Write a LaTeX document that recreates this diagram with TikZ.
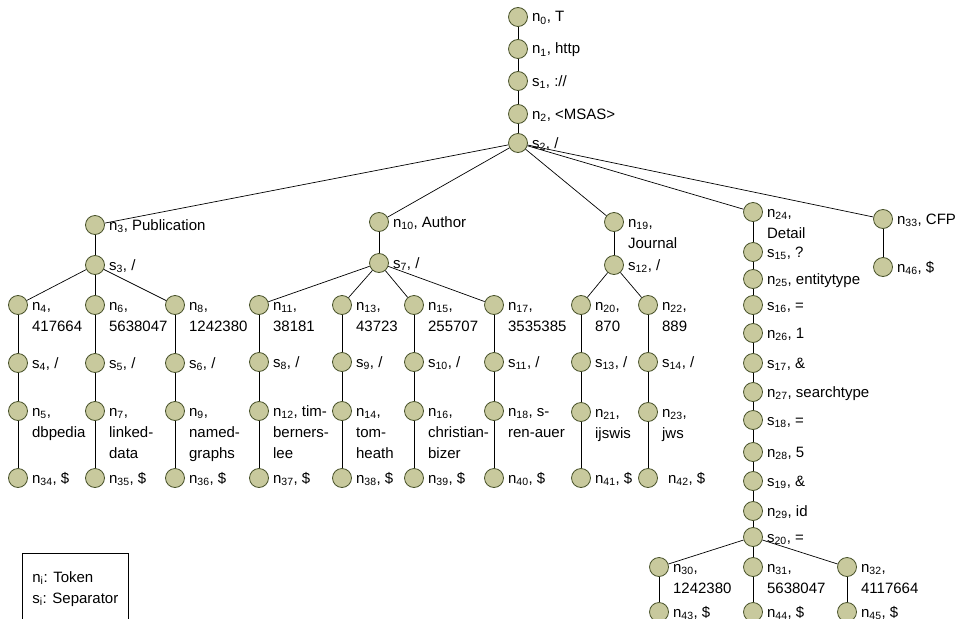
\documentclass[tikz,border=0pt]{standalone}
\usepackage{fontspec}
\setmainfont{Liberation Sans}
\usetikzlibrary{positioning,calc}
\definecolor{vfill}{RGB}{200,201,157}
\definecolor{vline}{RGB}{72,82,42}
\tikzset{vert/.style={circle,draw=vline,fill=vfill,line width=0.8pt,minimum size=19pt,inner sep=0pt}, }
\tikzset{lab/.style={anchor=base west,inner sep=0pt,font=\fontsize{15}{21}\selectfont}, }
\tikzset{linea/.style={draw,line width=0.7pt}}
\tikzset{keybox/.style={draw,line width=0.7pt,anchor=north west,inner xsep=10pt,inner ysep=14pt,
    minimum width=106pt,font=\fontsize{15}{21}\selectfont}, }
\newcommand{\tokn}[1]{n\textsubscript{#1}}
\newcommand{\sepr}[1]{s\textsubscript{#1}}
\newcommand{\lines}[1]{\begin{tabular}[t]{@{}l@{}}#1\end{tabular}}
% vertex with its text to the right
\newcommand{\vtx}[3]{\node[vert] (#1) at (#2) {};
  \node[lab] (#1-l) at ([xshift=4pt,yshift=-5pt]#1.east) {#3};}

\begin{document}
\begin{tikzpicture}[x=1pt,y=-1pt]
  \useasboundingbox (0,0) rectangle (960,618);
  % spine
  \vtx{n0}{518,17}{\tokn{0}, T}
  \vtx{n1}{518,49}{\tokn{1}, http}
  \vtx{s1}{518,81}{\sepr{1}, ://}
  \vtx{n2}{518,114}{\tokn{2}, <MSAS>}
  \vtx{s2}{518,143}{\sepr{2}, /}
  % Publication
  \vtx{n3}{95,225}{\tokn{3}, Publication}
  \vtx{s3}{95,265}{\sepr{3}, /}
  \vtx{n4}{18,305}{\lines{\tokn{4},\\417664}}
  \vtx{n6}{95,305}{\lines{\tokn{6},\\5638047}}
  \vtx{n8}{175,305}{\lines{\tokn{8},\\1242380}}
  \vtx{s4}{18,363}{\sepr{4}, /}
  \vtx{s5}{95,363}{\sepr{5}, /}
  \vtx{s6}{175,363}{\sepr{6}, /}
  \vtx{n5}{18,411}{\lines{\tokn{5},\\dbpedia}}
  \vtx{n7}{95,411}{\lines{\tokn{7},\\linked-\\data}}
  \vtx{n9}{175,411}{\lines{\tokn{9},\\named-\\graphs}}
  \vtx{n34}{18,478}{\tokn{34}, \$}
  \vtx{n35}{95,478}{\tokn{35}, \$}
  \vtx{n36}{175,478}{\tokn{36}, \$}
  % Author
  \vtx{n10}{379,222}{\tokn{10}, Author}
  \vtx{s7}{379,263}{\sepr{7}, /}
  \vtx{n11}{259,305}{\lines{\tokn{11},\\38181}}
  \vtx{n13}{342,305}{\lines{\tokn{13},\\43723}}
  \vtx{n15}{414,305}{\lines{\tokn{15},\\255707}}
  \vtx{n17}{494,305}{\lines{\tokn{17},\\3535385}}
  \vtx{s8}{259,362}{\sepr{8}, /}
  \vtx{s9}{342,362}{\sepr{9}, /}
  \vtx{s10}{414,362}{\sepr{10}, /}
  \vtx{s11}{494,362}{\sepr{11}, /}
  \vtx{n12}{259,411}{\lines{\tokn{12}, tim-\\berners-\\lee}}
  \vtx{n14}{342,411}{\lines{\tokn{14},\\tom-\\heath}}
  \vtx{n16}{414,411}{\lines{\tokn{16},\\christian-\\bizer}}
  \vtx{n18}{494,411}{\lines{\tokn{18}, s-\\ren-auer}}
  \vtx{n37}{259,478}{\tokn{37}, \$}
  \vtx{n38}{342,478}{\tokn{38}, \$}
  \vtx{n39}{414,478}{\tokn{39}, \$}
  \vtx{n40}{494,478}{\tokn{40}, \$}
  % Journal
  \vtx{n19}{614,222}{\lines{\tokn{19},\\Journal}}
  \vtx{s12}{614,265}{\sepr{12}, /}
  \vtx{n20}{581,305}{\lines{\tokn{20},\\870}}
  \vtx{n22}{648,305}{\lines{\tokn{22},\\889}}
  \vtx{s13}{581,362}{\sepr{13}, /}
  \vtx{s14}{648,362}{\sepr{14}, /}
  \vtx{n21}{581,412}{\lines{\tokn{21},\\ijswis}}
  \vtx{n23}{648,412}{\lines{\tokn{23},\\jws}}
  \vtx{n41}{581,478}{\tokn{41}, \$}
  \vtx{n42}{648,478}{\hspace{6pt}\tokn{42}, \$}
  % Detail
  \vtx{n24}{753,212}{\lines{\tokn{24},\\Detail}}
  \vtx{s15}{753,252}{\sepr{15}, ?}
  \vtx{n25}{753,279}{\tokn{25}, entitytype}
  \vtx{s16}{753,305}{\sepr{16}, =}
  \vtx{n26}{753,333}{\tokn{26}, 1}
  \vtx{s17}{753,363}{\sepr{17}, \&}
  \vtx{n27}{753,392}{\tokn{27}, searchtype}
  \vtx{s18}{753,420}{\sepr{18}, =}
  \vtx{n28}{753,452}{\tokn{28}, 5}
  \vtx{s19}{753,481}{\sepr{19}, \&}
  \vtx{n29}{753,511}{\tokn{29}, id}
  \vtx{s20}{753,537}{\sepr{20}, =}
  \vtx{n30}{659,567}{\lines{\tokn{30},\\1242380}}
  \vtx{n31}{753,567}{\lines{\tokn{31},\\5638047}}
  \vtx{n32}{847,567}{\lines{\tokn{32},\\4117664}}
  \vtx{n43}{659,612}{\tokn{43}, \$}
  \vtx{n44}{753,612}{\tokn{44}, \$}
  \vtx{n45}{847,612}{\tokn{45}, \$}
  % CFP
  \vtx{n33}{883,219}{\tokn{33}, CFP}
  \vtx{n46}{883,267}{\tokn{46}, \$}
  %
  \foreach \x/\y in {n0/n1,n1/s1,s1/n2,n2/s2,s2/n3,s2/n10,s2/n19,s2/n24,s2/n33,
      n3/s3,s3/n4,s3/n6,s3/n8,n4/s4,s4/n5,n5/n34,n6/s5,s5/n7,n7/n35,n8/s6,s6/n9,n9/n36,
      n10/s7,s7/n11,s7/n13,s7/n15,s7/n17,n11/s8,s8/n12,n12/n37,n13/s9,s9/n14,n14/n38,
      n15/s10,s10/n16,n16/n39,n17/s11,s11/n18,n18/n40,
      n19/s12,s12/n20,s12/n22,n20/s13,s13/n21,n21/n41,n22/s14,s14/n23,n23/n42,
      n24/s15,s15/n25,n25/s16,s16/n26,n26/s17,s17/n27,n27/s18,s18/n28,n28/s19,s19/n29,
      n29/s20,s20/n30,s20/n31,s20/n32,n30/n43,n31/n44,n32/n45,n33/n46}
    \path[linea] (\x) -- (\y);
  % key
  \node[keybox] (key) at (22,553) {\lines{\tokn{i}: Token\\\sepr{i}: Separator}};
\end{tikzpicture}
\end{document}
